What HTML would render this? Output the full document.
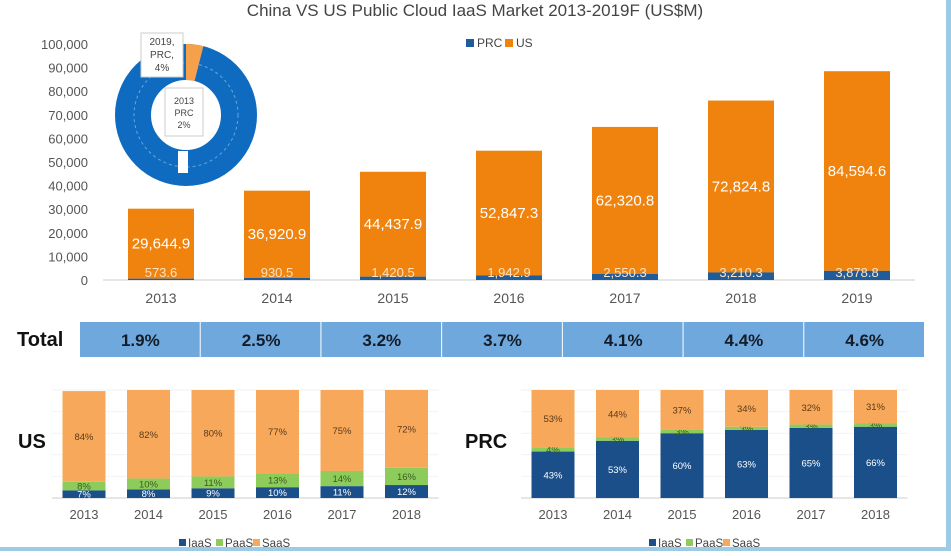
<!DOCTYPE html>
<html><head><meta charset="utf-8"><style>
body{margin:0;background:#fff;width:951px;height:551px;overflow:hidden;font-family:"Liberation Sans",sans-serif}
</style></head><body>
<svg width="951" height="551" xmlns="http://www.w3.org/2000/svg" font-family="Liberation Sans, sans-serif">
<rect x="946" y="0" width="5" height="551" fill="#9dcbe6"/>
<rect x="0" y="547" width="951" height="4" fill="#9dcbe6"/>
<text x="475" y="16" text-anchor="middle" font-size="17" fill="#444">China VS US Public Cloud IaaS Market 2013-2019F (US$M)</text>
<g id="main"></g>
<g id="legend">
<rect x="466" y="39" width="8" height="8" fill="#1f5c99"/>
<text x="477" y="47" font-size="12" fill="#444">PRC</text>
<rect x="505" y="39" width="8" height="8" fill="#f0830e"/>
<text x="516" y="47" font-size="12" fill="#444">US</text>
</g>
<g>
<circle cx="186" cy="115" r="53" fill="none" stroke="#0e6bbf" stroke-width="36"/>
<circle cx="186" cy="115" r="52" fill="none" stroke="#6aa6dc" stroke-width="1" stroke-dasharray="3,3"/>
<path d="M186,62 A53,53 0 0 1 199,63.6" fill="none" stroke="#f5a04a" stroke-width="36"/>
<rect x="178" y="151" width="10" height="22" fill="#fff"/>
<rect x="141" y="33" width="42" height="44" fill="#fff" stroke="#ccc"/>
<text x="162" y="45" font-size="10" text-anchor="middle" fill="#444">2019,</text>
<text x="162" y="58" font-size="10" text-anchor="middle" fill="#444">PRC,</text>
<text x="162" y="71" font-size="10" text-anchor="middle" fill="#444">4%</text>
<rect x="165" y="88" width="38" height="48" fill="#fff" stroke="#ccc"/>
<text x="184" y="104" font-size="9" text-anchor="middle" fill="#444">2013</text>
<text x="184" y="116" font-size="9" text-anchor="middle" fill="#444">PRC</text>
<text x="184" y="128" font-size="9" text-anchor="middle" fill="#444">2%</text>
</g>
<g id="total"></g>
<g id="us"></g>
<g id="prc"></g>
</svg>
<script>
const NS="http://www.w3.org/2000/svg";
const years=["2013","2014","2015","2016","2017","2018","2019"];
const usVals=[29644.9,36920.9,44437.9,52847.3,62320.8,72824.8,84594.6];
const prcVals=[573.6,930.5,1420.5,1942.9,2550.3,3210.3,3878.8];
const yTicks=[0,10000,20000,30000,40000,50000,60000,70000,80000,90000,100000];
const totals=["1.9%","2.5%","3.2%","3.7%","4.1%","4.4%","4.6%"];
const mixYears=["2013","2014","2015","2016","2017","2018"];
const usIaas=[7,8,9,10,11,12];
const usPaas=[8,10,11,13,14,16];
const usSaas=[84,82,80,77,75,72];
const prcIaas=[43,53,60,63,65,66];
const prcPaas=[4,3,3,3,3,3];
const prcSaas=[53,44,37,34,32,31];
function el(p,t,a,txt){const e=document.createElementNS(NS,t);for(const k in a)e.setAttribute(k,a[k]);if(txt!==undefined)e.textContent=txt;p.appendChild(e);return e;}
const fmt=v=>v.toLocaleString("en-US",{minimumFractionDigits:1,maximumFractionDigits:1});
const main=document.getElementById("main");
const y0=280,yTop=44,yMax=100000;
const ys=v=>y0-(v/yMax)*(y0-yTop);
const xs=i=>161+i*116;
yTicks.forEach(t=>{const e=el(main,"text",{x:88,y:ys(t)+5,"text-anchor":"end","font-size":13,fill:"#555"},t.toLocaleString("en-US"));

});
const ax=el(main,"line",{x1:103,x2:915,y1:y0,y2:y0,stroke:"#ccc"});


years.forEach((yr,i)=>{const cx=xs(i),w=66;
const pt=ys(prcVals[i]),ut=ys(prcVals[i]+usVals[i]);
const ub=el(main,"rect",{x:cx-w/2,y:ut,width:w,height:pt-ut,fill:"#f0830e"});


const pb=el(main,"rect",{x:cx-w/2,y:pt,width:w,height:y0-pt,fill:"#1f5c99"});


const ul=el(main,"text",{x:cx,y:(ut+pt)/2+5,"text-anchor":"middle","font-size":15,fill:"#fff"},fmt(usVals[i]));


const pl=el(main,"text",{x:cx,y:y0-3,"text-anchor":"middle","font-size":13,fill:"#fde2c4"},fmt(prcVals[i]));


const xl=el(main,"text",{x:cx,y:303,"text-anchor":"middle","font-size":14,fill:"#555"},yr);

});
const tot=document.getElementById("total");
const tl=el(tot,"text",{x:17,y:346,"font-size":20,"font-weight":"bold",fill:"#111"},"Total");


const cw=(925-80)/7;
totals.forEach((t,i)=>{const c=el(tot,"rect",{x:80+i*cw,y:322,width:cw-1,height:35,fill:"#6fa8dc"});


const tx=el(tot,"text",{x:80+i*cw+cw/2,y:346,"text-anchor":"middle","font-size":17,"font-weight":"bold",fill:"#141c28"},t);

});
function mix(gid,label,lx,x0,iaas,paas,saas,lgx){
const g=document.getElementById(gid);
const top=390,bot=498,h=bot-top,w=43;
const lab=el(g,"text",{x:lx,y:448,"font-size":20,"font-weight":"bold",fill:"#111"},label);


for(let k=0;k<=5;k++){const ln=el(g,"line",{x1:x0-32,x2:x0+32+5*64.5,y1:bot-k*h/5,y2:bot-k*h/5,stroke:k?"#f2f2f2":"#ccc"});

}
mixYears.forEach((yr,i)=>{const cx=x0+i*64.5;let base=bot;
[[iaas[i],"#1b4f8a","#fff","iaas"],[paas[i],"#8dcc5a","#3a5a20","paas"],[saas[i],"#f7a85a","#5a3a1a","saas"]].forEach(([v,c,tc,n])=>{
const hh=v/100*h;const r=el(g,"rect",{x:cx-w/2,y:base-hh,width:w,height:hh,fill:c});


const t=el(g,"text",{x:cx,y:base-hh/2+3.5,"text-anchor":"middle","font-size":9.5,fill:tc},v+"%");


base-=hh;});
const xl=el(g,"text",{x:cx,y:519,"text-anchor":"middle","font-size":13,fill:"#555"},yr);

});
[["IaaS","#1b4f8a"],["PaaS","#8dcc5a"],["SaaS","#f7a85a"]].forEach(([n,c],j)=>{const ox=lgx+j*37;
const s=el(g,"rect",{x:ox,y:539,width:7,height:7,fill:c});


const t=el(g,"text",{x:ox+9,y:547,"font-size":11.5,fill:"#444"},n);

});}
mix("us","US",18,84,usIaas,usPaas,usSaas,179);
mix("prc","PRC",465,553,prcIaas,prcPaas,prcSaas,649);
</script>
</body></html>
